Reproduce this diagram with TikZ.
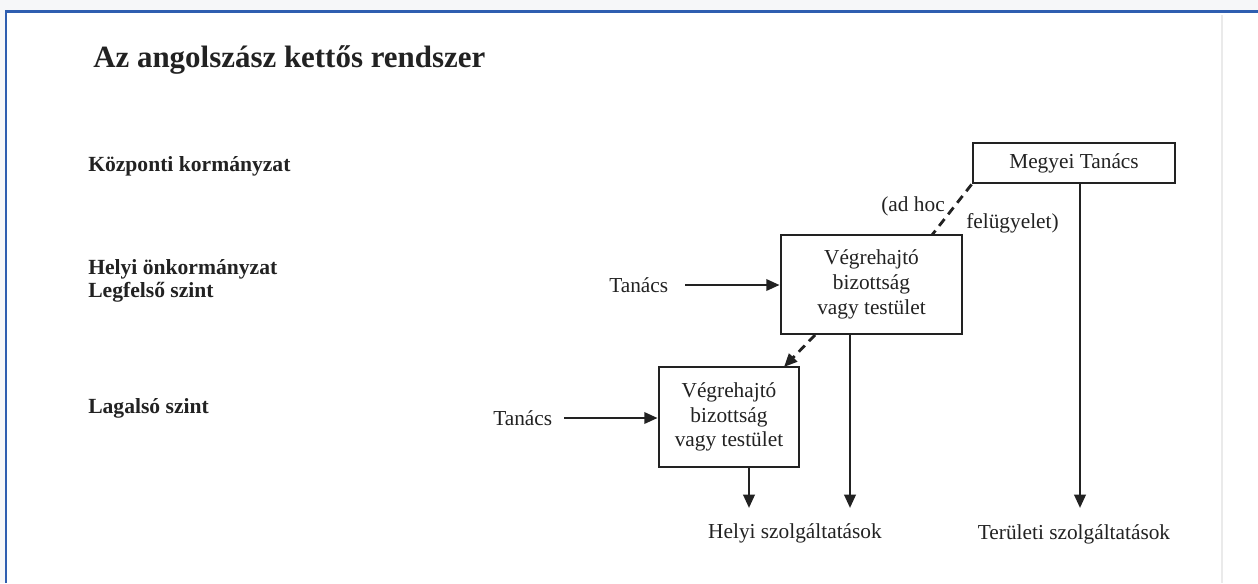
\documentclass[tikz,border=0pt]{standalone}
\usepackage{fontspec}
\setmainfont{Liberation Serif}
\usetikzlibrary{arrows.meta}
\definecolor{frameblue}{RGB}{47,94,176}
\definecolor{outerbg}{RGB}{246,247,249}
\definecolor{sepgray}{RGB}{234,234,234}
\definecolor{ink}{RGB}{34,34,34}
\tikzset{
  txt/.style={font=\fontsize{16}{19}\selectfont, inner sep=0pt, text=ink},
  lvl/.style={font=\fontsize{16.2}{17.5}\selectfont\bfseries, inner sep=0pt, anchor=west, align=left, text=ink},
  boxnode/.style={draw=ink, line width=2.1pt, font=\fontsize{16}{18.5}\selectfont, align=center, inner sep=0pt, text=ink},
  tip/.style={-{Triangle[length=10pt,width=8.5pt]}},
  conn/.style={line width=1.9pt, draw=ink, tip},
  dashconn/.style={line width=2.1pt, draw=ink, dash pattern=on 6.5pt off 4.5pt}
}
\begin{document}
\begin{tikzpicture}[x=0.75pt,y=-0.75pt]
\useasboundingbox (0,0) rectangle (1258,583);
\fill[outerbg] (0,0) rectangle (1258,583);
\fill[white] (6,11.5) rectangle (1258,583);
\draw[sepgray, line width=1.5pt] (1222,15) -- (1222,583);
\draw[frameblue, line width=2.2pt] (6,583) -- (6,11.5) -- (1258,11.5);

% title
\node[anchor=west, inner sep=0pt, text=ink, font=\fontsize{23.2}{26}\selectfont\bfseries] (title) at (93,60) {Az angolszász kettős rendszer};

% level labels
\node[lvl] (l1) at (88,166) {Központi kormányzat};
\node[lvl] (l2) at (88,281) {Helyi önkormányzat\\Legfelső szint};
\node[lvl] (l3) at (88,408) {Lagalsó szint};

% boxes
\node[boxnode, minimum width=202pt*0.75, minimum height=40pt*0.75] (megyei) at (1074,163) {Megyei Tanács};
\node[boxnode, minimum width=181pt*0.75, minimum height=99pt*0.75] (vb1) at (871.5,284.5) {Végrehajtó\\bizottság\\vagy testület};
\node[boxnode, minimum width=140pt*0.75, minimum height=100pt*0.75] (vb2) at (729,417) {Végrehajtó\\bizottság\\vagy testület};

% Tanács inputs
\node[txt, anchor=west] (tan1) at (609,285) {Tanács};
\node[txt, anchor=west] (tan2) at (493,418) {Tanács};
\draw[conn] (tan1.east) ++(17,0) coordinate (t1s) -- (vb1.west |- t1s);
\draw[conn] (tan2.east) ++(12,0) coordinate (t2s) -- (vb2.west |- t2s);

% supervision dashed line
\coordinate (d1e) at (932,235);
\draw[dashconn] (megyei.south west) -- (d1e);
\node[txt, anchor=east] (adhoc) at (945,206) {(ad hoc};
\node[txt, anchor=west] (felu) at (966,223) {felügyelet)};

% dashed arrow vb1 -> vb2
\coordinate (d2s) at (815,335);
\coordinate (d2e) at (784,367);
\draw[dashconn, tip] (d2s) -- (d2e);

% outputs
\node[txt] (helyi) at (795,533) {Helyi szolgáltatások};
\node[txt] (terul) at (1074,534) {Területi szolgáltatások};
\coordinate (o1) at (749,508);
\coordinate (o2) at (850,508);
\coordinate (o3) at (1080,508);
\draw[conn] (vb2.south -| o1) -- (o1);
\draw[conn] (vb1.south -| o2) -- (o2);
\draw[conn] (megyei.south -| o3) -- (o3);
\end{tikzpicture}
\end{document}
